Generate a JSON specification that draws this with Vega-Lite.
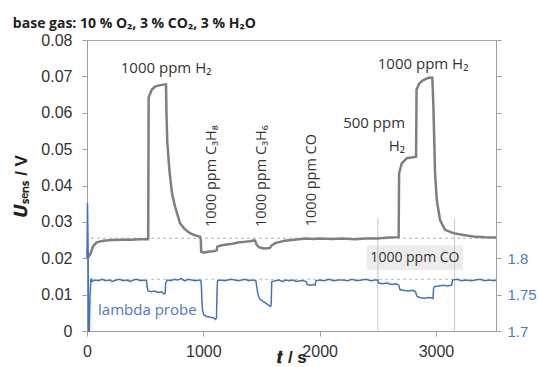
{
  "$schema": "https://vega.github.io/schema/vega-lite/v6.json",
  "autosize": "none",
  "width": 409,
  "height": 291,
  "padding": {"left": 87, "top": 40, "right": 42, "bottom": 36},
  "background": "white",
  "title": {
    "text": "base gas: 10 % O₂, 3 % CO₂, 3 % H₂O",
    "anchor": "start",
    "font": "Open Sans",
    "fontSize": 14,
    "fontWeight": "bold",
    "color": "#222",
    "offset": 6,
    "dy": 5
  },
  "config": {
    "view": {"stroke": "#a6a6a6", "strokeWidth": 1},
    "axis": {
      "labelFont": "Liberation Sans",
      "labelFontSize": 16,
      "labelColor": "#333",
      "domainColor": "#a0a0a0",
      "tickColor": "#a0a0a0",
      "tickSize": 5,
      "grid": false,
      "titleFont": "Liberation Sans",
      "titleFontSize": 17,
      "titleFontWeight": "bold",
      "titleColor": "#222"
    }
  },
  "datasets": {
    "sensor": [
      {"t":0,"v":0.0222},{"t":15,"v":0.0205},{"t":30,"v":0.0212},{"t":50,"v":0.0232},{"t":80,"v":0.0243},{"t":120,"v":0.0247},{"t":160,"v":0.0249},{"t":220,"v":0.0250},{"t":300,"v":0.0251},{"t":380,"v":0.0251},{"t":450,"v":0.0252},{"t":526,"v":0.0252},{"t":530,"v":0.0642},{"t":556,"v":0.0663},{"t":585,"v":0.0672},{"t":628,"v":0.0676},{"t":679,"v":0.0678},{"t":683,"v":0.0600},{"t":690,"v":0.0520},{"t":708,"v":0.0443},{"t":730,"v":0.0380},{"t":757,"v":0.0342},{"t":800,"v":0.0296},{"t":840,"v":0.0280},{"t":886,"v":0.0269},{"t":930,"v":0.0263},{"t":972,"v":0.0259},{"t":978,"v":0.0252},{"t":982,"v":0.0218},{"t":1000,"v":0.0215},{"t":1040,"v":0.0218},{"t":1080,"v":0.0219},{"t":1110,"v":0.0221},{"t":1115,"v":0.0222},{"t":1120,"v":0.0232},{"t":1150,"v":0.0235},{"t":1200,"v":0.0238},{"t":1250,"v":0.0240},{"t":1300,"v":0.0243},{"t":1350,"v":0.0245},{"t":1400,"v":0.0247},{"t":1440,"v":0.0249},{"t":1447,"v":0.0247},{"t":1460,"v":0.0236},{"t":1480,"v":0.0230},{"t":1520,"v":0.0227},{"t":1570,"v":0.0228},{"t":1590,"v":0.0236},{"t":1620,"v":0.0242},{"t":1660,"v":0.0245},{"t":1700,"v":0.0248},{"t":1760,"v":0.0250},{"t":1820,"v":0.0252},{"t":1880,"v":0.0254},{"t":1950,"v":0.0253},{"t":2000,"v":0.0254},{"t":2100,"v":0.0253},{"t":2200,"v":0.0254},{"t":2300,"v":0.0252},{"t":2400,"v":0.0254},{"t":2500,"v":0.0254},{"t":2550,"v":0.0256},{"t":2600,"v":0.0257},{"t":2679,"v":0.0258},{"t":2683,"v":0.0434},{"t":2706,"v":0.0461},{"t":2749,"v":0.0475},{"t":2829,"v":0.0479},{"t":2833,"v":0.0663},{"t":2857,"v":0.0681},{"t":2892,"v":0.0690},{"t":2935,"v":0.0696},{"t":2969,"v":0.0696},{"t":2978,"v":0.0617},{"t":2992,"v":0.0434},{"t":3007,"v":0.0360},{"t":3035,"v":0.0305},{"t":3078,"v":0.0278},{"t":3150,"v":0.0269},{"t":3236,"v":0.0264},{"t":3320,"v":0.0260},{"t":3420,"v":0.0258},{"t":3516,"v":0.0257}
    ],
    "lambda": [
      {"t":0,"v":1.80},{"t":4,"v":1.876},{"t":9,"v":1.82},{"t":13,"v":1.70},{"t":20,"v":1.70},{"t":26,"v":1.75},{"t":34,"v":1.772},{"t":45,"v":1.768},{"t":70,"v":1.770},{"t":100,"v":1.769},{"t":130,"v":1.771},{"t":160,"v":1.769},{"t":190,"v":1.770},{"t":220,"v":1.768},{"t":250,"v":1.770},{"t":280,"v":1.771},{"t":310,"v":1.769},{"t":340,"v":1.770},{"t":370,"v":1.768},{"t":400,"v":1.770},{"t":430,"v":1.771},{"t":460,"v":1.769},{"t":490,"v":1.770},{"t":512,"v":1.769},{"t":518,"v":1.760},{"t":525,"v":1.755},{"t":550,"v":1.754},{"t":580,"v":1.755},{"t":610,"v":1.753},{"t":640,"v":1.754},{"t":660,"v":1.751},{"t":672,"v":1.752},{"t":676,"v":1.766},{"t":690,"v":1.770},{"t":720,"v":1.769},{"t":750,"v":1.771},{"t":780,"v":1.770},{"t":810,"v":1.772},{"t":840,"v":1.769},{"t":870,"v":1.771},{"t":900,"v":1.770},{"t":930,"v":1.769},{"t":960,"v":1.770},{"t":980,"v":1.769},{"t":984,"v":1.760},{"t":988,"v":1.740},{"t":994,"v":1.728},{"t":1005,"v":1.722},{"t":1030,"v":1.720},{"t":1060,"v":1.719},{"t":1090,"v":1.718},{"t":1105,"v":1.716},{"t":1113,"v":1.718},{"t":1118,"v":1.755},{"t":1122,"v":1.769},{"t":1150,"v":1.770},{"t":1180,"v":1.769},{"t":1210,"v":1.770},{"t":1240,"v":1.771},{"t":1270,"v":1.770},{"t":1300,"v":1.769},{"t":1330,"v":1.770},{"t":1360,"v":1.771},{"t":1390,"v":1.769},{"t":1420,"v":1.770},{"t":1452,"v":1.769},{"t":1458,"v":1.762},{"t":1470,"v":1.750},{"t":1485,"v":1.744},{"t":1510,"v":1.741},{"t":1540,"v":1.738},{"t":1565,"v":1.735},{"t":1580,"v":1.734},{"t":1584,"v":1.740},{"t":1588,"v":1.768},{"t":1620,"v":1.769},{"t":1650,"v":1.770},{"t":1680,"v":1.768},{"t":1710,"v":1.770},{"t":1740,"v":1.769},{"t":1770,"v":1.770},{"t":1800,"v":1.768},{"t":1830,"v":1.769},{"t":1860,"v":1.769},{"t":1885,"v":1.768},{"t":1892,"v":1.764},{"t":1920,"v":1.763},{"t":1950,"v":1.764},{"t":1962,"v":1.763},{"t":1967,"v":1.769},{"t":2000,"v":1.770},{"t":2040,"v":1.769},{"t":2080,"v":1.771},{"t":2120,"v":1.769},{"t":2160,"v":1.770},{"t":2200,"v":1.770},{"t":2240,"v":1.769},{"t":2280,"v":1.771},{"t":2320,"v":1.769},{"t":2360,"v":1.770},{"t":2400,"v":1.771},{"t":2440,"v":1.769},{"t":2480,"v":1.770},{"t":2500,"v":1.770},{"t":2506,"v":1.766},{"t":2540,"v":1.765},{"t":2580,"v":1.766},{"t":2620,"v":1.764},{"t":2660,"v":1.765},{"t":2680,"v":1.763},{"t":2690,"v":1.757},{"t":2720,"v":1.756},{"t":2760,"v":1.755},{"t":2800,"v":1.756},{"t":2825,"v":1.754},{"t":2835,"v":1.748},{"t":2860,"v":1.746},{"t":2900,"v":1.745},{"t":2940,"v":1.746},{"t":2975,"v":1.745},{"t":2979,"v":1.758},{"t":2985,"v":1.761},{"t":3020,"v":1.762},{"t":3060,"v":1.763},{"t":3100,"v":1.762},{"t":3135,"v":1.763},{"t":3142,"v":1.770},{"t":3180,"v":1.771},{"t":3220,"v":1.769},{"t":3260,"v":1.770},{"t":3300,"v":1.769},{"t":3340,"v":1.770},{"t":3380,"v":1.771},{"t":3420,"v":1.769},{"t":3460,"v":1.770},{"t":3500,"v":1.769},{"t":3516,"v":1.770}
    ],
    "clabels": [
      {"t":680,"v":0.0723,"label":"1000 ppm H₂"},
      {"t":2889,"v":0.0734,"label":"1000 ppm H₂"}
    ],
    "rlabels": [
      {"t":2734,"v":0.0573,"label":"500 ppm"},
      {"t":2734,"v":0.0509,"label":"H₂"}
    ],
    "vlabels": [
      {"t":1072,"v":0.0286,"label":"1000 ppm C₃H₈"},
      {"t":1507,"v":0.0286,"label":"1000 ppm C₃H₆"},
      {"t":1932,"v":0.0288,"label":"1000 ppm CO"}
    ],
    "cobox": [{"t":2405,"t2":3233,"v":0.0168,"v2":0.0236}],
    "cotext": [{"t":2819,"v":0.0202,"label":"1000 ppm CO"}],
    "vrules": [{"t":2500,"v":0,"v2":0.031},{"t":3160,"v":0,"v2":0.031}],
    "hbase": [{"v":0.0255}],
    "lbase": [{"v":1.771}],
    "lname": [{"t":95,"v":0.0058,"label":"lambda probe"}]
  },
  "layer": [
    {
      "encoding": {
        "y": {
          "field": "v", "type": "quantitative",
          "scale": {"domain": [0, 0.08], "nice": false},
          "axis": {
            "title": "𝑼ₛₑₙₛ / V",
            "values": [0, 0.01, 0.02, 0.03, 0.04, 0.05, 0.06, 0.07, 0.08],
            "labelExpr": "datum.value == 0 ? '0' : format(datum.value, '.2f')",
            "labelPadding": 10,
            "titlePadding": 10
          }
        }
      },
      "layer": [
        {
          "data": {"name": "cobox"},
          "mark": {"type": "rect", "color": "#ececec"},
          "encoding": {
            "x": {"field": "t", "type": "quantitative", "scale": {"domain": [0, 3516], "nice": false, "zero": false}},
            "x2": {"field": "t2"},
            "y2": {"field": "v2"}
          }
        },
        {
          "data": {"name": "vrules"},
          "mark": {"type": "rule", "color": "#c8c8c8", "strokeWidth": 1},
          "encoding": {
            "x": {"field": "t", "type": "quantitative"},
            "y2": {"field": "v2"}
          }
        },
        {
          "data": {"name": "hbase"},
          "mark": {"type": "rule", "color": "#b5b5b5", "strokeWidth": 1, "strokeDash": [3, 3]},
          "encoding": {}
        },
        {
          "data": {"name": "clabels"},
          "mark": {"type": "text", "font": "Open Sans", "fontSize": 15, "color": "#333", "baseline": "middle", "align": "center"},
          "encoding": {
            "x": {"field": "t", "type": "quantitative"},
            "text": {"field": "label"}
          }
        },
        {
          "data": {"name": "rlabels"},
          "mark": {"type": "text", "font": "Open Sans", "fontSize": 15, "color": "#333", "baseline": "middle", "align": "right"},
          "encoding": {
            "x": {"field": "t", "type": "quantitative"},
            "text": {"field": "label"}
          }
        },
        {
          "data": {"name": "vlabels"},
          "mark": {"type": "text", "font": "Open Sans", "fontSize": 14.5, "color": "#333", "angle": 270, "align": "left", "baseline": "middle"},
          "encoding": {
            "x": {"field": "t", "type": "quantitative"},
            "text": {"field": "label"}
          }
        },
        {
          "data": {"name": "cotext"},
          "mark": {"type": "text", "font": "Open Sans", "fontSize": 14, "color": "#333", "align": "center", "baseline": "middle"},
          "encoding": {
            "x": {"field": "t", "type": "quantitative"},
            "text": {"field": "label"}
          }
        },
        {
          "data": {"name": "lname"},
          "mark": {"type": "text", "font": "Open Sans", "fontSize": 15, "color": "#4a78cf", "align": "left", "baseline": "middle"},
          "encoding": {
            "x": {"field": "t", "type": "quantitative"},
            "text": {"field": "label"}
          }
        },
        {
          "data": {"name": "sensor"},
          "mark": {"type": "line", "color": "#7f7f7f", "strokeWidth": 2.5},
          "encoding": {
            "x": {
              "field": "t", "type": "quantitative",
              "axis": {"title": "𝒕 / s", "values": [0, 1000, 2000, 3000], "format": "d", "labelPadding": 7, "titleY": 31, "titleBaseline": "alphabetic", "labelFlush": false}
            }
          }
        }
      ]
    },
    {
      "encoding": {
        "y": {
          "field": "v", "type": "quantitative",
          "scale": {"domain": [1.7, 2.1], "nice": false, "zero": false},
          "axis": {
            "orient": "right",
            "title": null,
            "values": [1.7, 1.75, 1.8, 1.85, 1.9, 1.95, 2.0, 2.05, 2.1],
            "labelExpr": "datum.value <= 1.8001 ? format(datum.value, '.3~g') : ''",
            "labelColor": "#4a7bd3",
            "labelFontSize": 15,
            "labelPadding": 6
          }
        }
      },
      "layer": [
        {
          "data": {"name": "lbase"},
          "mark": {"type": "rule", "color": "#b8bfd0", "strokeWidth": 1, "strokeDash": [3, 3]},
          "encoding": {}
        },
        {
          "data": {"name": "lambda"},
          "mark": {"type": "line", "color": "#4472c4", "strokeWidth": 1.5},
          "encoding": {
            "x": {"field": "t", "type": "quantitative"}
          }
        }
      ]
    }
  ],
  "resolve": {"scale": {"y": "independent"}, "axis": {"y": "independent"}}
}
